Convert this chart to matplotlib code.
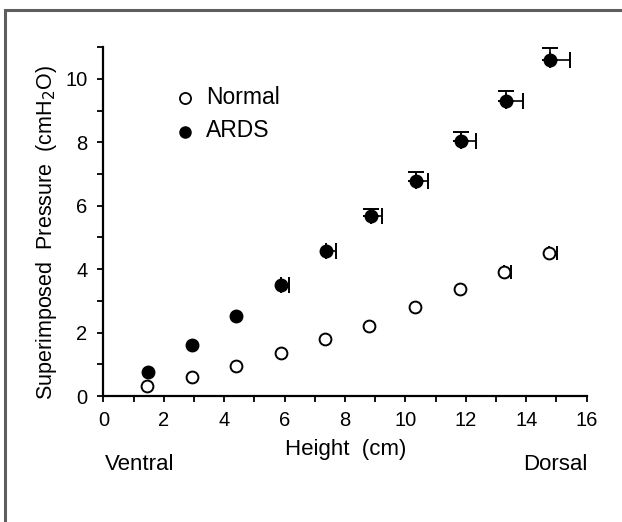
import matplotlib
matplotlib.use("Agg")
import matplotlib.pyplot as plt
from matplotlib.patches import Rectangle
import numpy as np

plt.rcParams['font.family'] = ['Liberation Sans', 'DejaVu Sans']

# Height above the most ventral point (cm)
height_normal = [1.43, 2.92, 4.39, 5.87, 7.34, 8.80, 10.33, 11.81, 13.26, 14.75]
height_ards = [1.49, 2.94, 4.39, 5.88, 7.36, 8.87, 10.35, 11.83, 13.33, 14.79]

# Superimposed pressure (cmH2O)
pressure_normal = [0.32, 0.60, 0.96, 1.37, 1.79, 2.22, 2.80, 3.38, 3.91, 4.51]
pressure_ards = [0.75, 1.60, 2.51, 3.49, 4.57, 5.68, 6.79, 8.04, 9.31, 10.60]

# One-sided SE (upper for pressure, right for height)
pressure_err_ards = [0, 0, 0, 0, 0, 0.23, 0.29, 0.29, 0.32, 0.37]
height_err_ards = [0, 0, 0, 0.25, 0.33, 0.34, 0.41, 0.50, 0.55, 0.66]
height_err_normal = [0, 0, 0, 0, 0, 0, 0, 0, 0.24, 0.26]

x_ticks = [0, 2, 4, 6, 8, 10, 12, 14, 16]
y_ticks = [0, 2, 4, 6, 8, 10]

fig = plt.figure(figsize=(6.22, 5.22), dpi=100)
fig.patch.set_facecolor('white')

# Frame around the figure
fig.patches.append(Rectangle((4.5 / 622, -0.2), 1.3, 1.2 - 9.5 / 522,
                             transform=fig.transFigure, fill=False,
                             edgecolor='#5e5e5e', linewidth=2.2))

ax = fig.add_axes([103.4 / 622, 126 / 522, 483.2 / 622, 348.7 / 522])


def one_sided_bars(x, y, err, axis, capsize):
    """Draw only the bars whose error is non-zero (upper / right side)."""
    x = np.asarray(x)
    y = np.asarray(y)
    err = np.asarray(err)
    keep = err > 0
    if not keep.any():
        return
    e = [np.zeros(keep.sum()), err[keep]]
    kw = dict(fmt='none', ecolor='black', elinewidth=1.2,
              capsize=capsize, capthick=1.4, zorder=2)
    if axis == 'x':
        ax.errorbar(x[keep], y[keep], xerr=e, **kw)
    else:
        ax.errorbar(x[keep], y[keep], yerr=e, **kw)


one_sided_bars(height_normal, pressure_normal, height_err_normal, 'x', 5)
one_sided_bars(height_ards, pressure_ards, height_err_ards, 'x', 5.5)
one_sided_bars(height_ards, pressure_ards, pressure_err_ards, 'y', 5.5)

ax.plot(height_normal, pressure_normal, 'o', ms=8.5, mfc='white',
        mec='black', mew=1.4, linestyle='none', zorder=3)
ax.plot(height_ards, pressure_ards, 'o', ms=9, mfc='black',
        mec='black', linestyle='none', zorder=3)

ax.set_xlim(0, 16)
ax.set_ylim(0, 11)
for side in ('top', 'right'):
    ax.spines[side].set_visible(False)
for side in ('left', 'bottom'):
    ax.spines[side].set_linewidth(1.6)
ax.spines['left'].set_bounds(0, 11)
ax.spines['bottom'].set_bounds(0, 16)

ax.set_xticks(x_ticks)
ax.set_xticks(np.arange(0, 17, 1), minor=True)
ax.set_yticks(y_ticks)
ax.set_yticks(np.arange(0, 12, 1), minor=True)
ax.tick_params(which='both', direction='out', length=4.5, width=1.3,
               labelsize=14.5, color='black')
ax.tick_params(axis='x', which='major', pad=6)
ax.tick_params(axis='y', which='major', pad=7)

# Legend drawn as markers with text labels
ax.plot([2.70], [9.40], 'o', ms=8, mfc='white', mec='black', mew=1.3,
        clip_on=False)
ax.plot([2.70], [8.34], 'o', ms=8, mfc='black', mec='black',
        clip_on=False)
ax.text(3.40, 9.42, 'Normal', fontsize=16.5, va='center', ha='left')
ax.text(3.40, 8.36, 'ARDS', fontsize=16.5, va='center', ha='left')

fig.text(47 / 622, 1 - 233 / 522, 'Superimposed  Pressure  (cmH$_2$O)',
         rotation=90, ha='center', va='center', fontsize=15.5)
fig.text(346 / 622, 1 - 450 / 522, 'Height  (cm)',
         ha='center', va='center', fontsize=16)
fig.text(140 / 622, 1 - 464 / 522, 'Ventral',
         ha='center', va='center', fontsize=16)
fig.text(555 / 622, 1 - 464 / 522, 'Dorsal',
         ha='center', va='center', fontsize=16)

fig.savefig('out.png', dpi=100, facecolor='white')
